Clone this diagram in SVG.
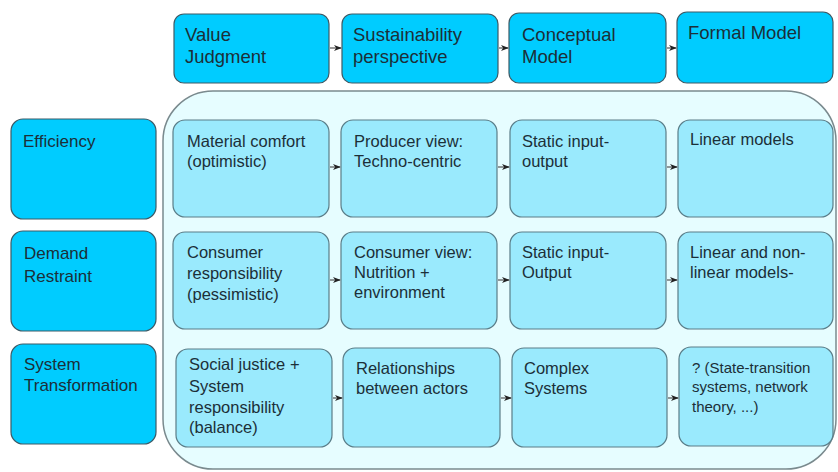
<svg xmlns="http://www.w3.org/2000/svg" width="838" height="472" viewBox="0 0 838 472">
<defs>
<style>
.hdr{fill:#00ccff;stroke:#3d5a66;stroke-width:1.2}
.cell{fill:#9aeafd;stroke:#5a7d88;stroke-width:1.2}
.cont{fill:#e6fdff;stroke:#7a8a8e;stroke-width:1.5}
text{font-family:"Liberation Sans",Arial,sans-serif;fill:#1c2f38}
.th{font-size:18.5px}
.tr{font-size:17px}
.tc{font-size:16.5px}
.ts{font-size:15px}
.conn line{stroke:#555;stroke-width:1.2;marker-end:url(#ah)}
</style>
<marker id="ah" viewBox="0 0 10 10" refX="9" refY="5" markerWidth="8" markerHeight="8" orient="auto" markerUnits="userSpaceOnUse">
<path d="M0,1 L10,5 L0,9 L3,5 Z" fill="#222"/>
</marker>
</defs>
<rect width="838" height="472" fill="#ffffff"/>
<g id="container"><rect class="cont" x="163" y="91" width="673" height="378" rx="50"/></g>

<g id="h1"><rect class="hdr" x="174" y="14" width="155" height="69" rx="10"/><text class="th" x="185" y="41">Value</text><text class="th" x="185" y="63">Judgment</text></g>
<g id="h2"><rect class="hdr" x="342" y="14" width="156" height="69" rx="10"/><text class="th" x="353" y="41">Sustainability</text><text class="th" x="353" y="63">perspective</text></g>
<g id="h3"><rect class="hdr" x="509" y="13" width="157" height="70" rx="10"/><text class="th" x="522" y="41">Conceptual</text><text class="th" x="522" y="63">Model</text></g>
<g id="h4"><rect class="hdr" x="677" y="12" width="156" height="71" rx="10"/><text class="th" x="688" y="39">Formal Model</text></g>

<g id="r1"><rect class="hdr" x="11" y="119" width="145" height="100" rx="12"/><text class="tr" x="23" y="147">Efficiency</text></g>
<g id="r2"><rect class="hdr" x="11" y="231" width="145" height="100" rx="12"/><text class="tr" x="24" y="259">Demand</text><text class="tr" x="24" y="282">Restraint</text></g>
<g id="r3"><rect class="hdr" x="11" y="344" width="145" height="100" rx="12"/><text class="tr" x="24" y="370">System</text><text class="tr" x="24" y="391">Transformation</text></g>

<g id="c11"><rect class="cell" x="173" y="120" width="156" height="97" rx="12"/><text class="tc" x="187" y="147">Material comfort</text><text class="tc" x="187" y="167">(optimistic)</text></g>
<g id="c12"><rect class="cell" x="341" y="120" width="156" height="97" rx="12"/><text class="tc" x="354" y="147">Producer view:</text><text class="tc" x="354" y="167">Techno-centric</text></g>
<g id="c13"><rect class="cell" x="510" y="120" width="156" height="97" rx="12"/><text class="tc" x="522" y="147">Static input-</text><text class="tc" x="522" y="167">output</text></g>
<g id="c14"><rect class="cell" x="678" y="120" width="155" height="97" rx="12"/><text class="tc" x="690" y="145">Linear models</text></g>

<g id="c21"><rect class="cell" x="173" y="232" width="156" height="97" rx="12"/><text class="tc" x="187" y="258">Consumer</text><text class="tc" x="187" y="279">responsibility</text><text class="tc" x="187" y="300">(pessimistic)</text></g>
<g id="c22"><rect class="cell" x="341" y="232" width="156" height="97" rx="12"/><text class="tc" x="354" y="258">Consumer view:</text><text class="tc" x="354" y="278">Nutrition +</text><text class="tc" x="354" y="298">environment</text></g>
<g id="c23"><rect class="cell" x="510" y="232" width="156" height="97" rx="12"/><text class="tc" x="522" y="258">Static input-</text><text class="tc" x="522" y="278">Output</text></g>
<g id="c24"><rect class="cell" x="678" y="232" width="155" height="97" rx="12"/><text class="tc" x="690" y="258">Linear and non-</text><text class="tc" x="690" y="278">linear models-</text></g>

<g id="c31"><rect class="cell" x="176" y="349" width="156" height="98" rx="12"/><text class="tc" x="189" y="370">Social justice +</text><text class="tc" x="189" y="392">System</text><text class="tc" x="189" y="413">responsibility</text><text class="tc" x="189" y="433">(balance)</text></g>
<g id="c32"><rect class="cell" x="343" y="348" width="157" height="99" rx="12"/><text class="tc" x="356" y="374">Relationships</text><text class="tc" x="356" y="394">between actors</text></g>
<g id="c33"><rect class="cell" x="512" y="348" width="155" height="99" rx="12"/><text class="tc" x="524" y="374">Complex</text><text class="tc" x="524" y="394">Systems</text></g>
<g id="c34"><rect class="cell" x="679" y="347" width="154" height="99" rx="12"/><text class="ts" x="692" y="373">? (State-transition</text><text class="ts" x="692" y="392">systems, network</text><text class="ts" x="692" y="412">theory, ...)</text></g>

<g class="conn" id="connectors">
<line x1="330" y1="48" x2="341" y2="48"/>
<line x1="499" y1="48" x2="508" y2="48"/>
<line x1="667" y1="48" x2="676" y2="48"/>
<line x1="330" y1="167" x2="340" y2="167"/>
<line x1="498" y1="167" x2="509" y2="167"/>
<line x1="667" y1="167" x2="677" y2="167"/>
<line x1="330" y1="280" x2="340" y2="280"/>
<line x1="498" y1="280" x2="509" y2="280"/>
<line x1="667" y1="280" x2="677" y2="280"/>
<line x1="333" y1="398" x2="342" y2="398"/>
<line x1="501" y1="398" x2="511" y2="398"/>
<line x1="668" y1="398" x2="678" y2="398"/>
</g>
</svg>
